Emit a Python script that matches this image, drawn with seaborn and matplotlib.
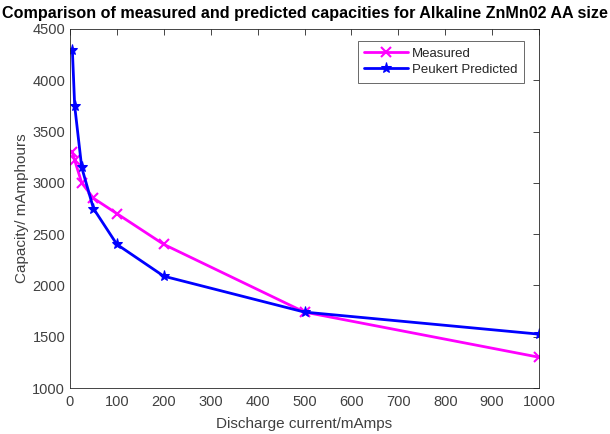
import matplotlib
matplotlib.use("Agg")
import matplotlib.pyplot as plt
import seaborn as sns
import pandas as pd

current = [5, 10, 25, 50, 100, 200, 500, 1000]
measured = [3300, 3220, 3000, 2850, 2700, 2400, 1740, 1300]
predicted = [4300, 3750, 3150, 2750, 2400, 2090, 1740, 1525]
xticks = list(range(0, 1001, 100))
yticks = list(range(1000, 4501, 500))

sns.set_style("white")
plt.rcParams['font.family'] = ['Liberation Sans', 'DejaVu Sans']

df_m = pd.DataFrame({"I": current, "C": measured})
df_p = pd.DataFrame({"I": current, "C": predicted})

fig = plt.figure(figsize=(6.1, 4.34), dpi=100)
ax = fig.add_axes([70/610, 1-388/434, 469/610, 359/434])

sns.lineplot(data=df_m, x="I", y="C", ax=ax, color="#FF00FF", linewidth=2,
             marker="x", markersize=7, markeredgewidth=1.5, markeredgecolor="#FF00FF",
             label="Measured", sort=False)
sns.lineplot(data=df_p, x="I", y="C", ax=ax, color="#0000FF", linewidth=2,
             marker="*", markersize=8, markeredgecolor="#0000FF",
             label="Peukert Predicted", sort=False)

ax.set_xlim(0, 1000)
ax.set_ylim(1000, 4500)
ax.set_xticks(xticks)
ax.set_yticks(yticks)
gray = "#262626"
ax.tick_params(direction="in", length=4, width=0.6, top=True, right=True,
               labelsize=10.5, colors=gray, labelcolor="#404040")
ax.tick_params(axis="x", pad=5)
for s in ax.spines.values():
    s.set_linewidth(0.6)
    s.set_color(gray)

ax.set_xlabel("Discharge current/mAmps", fontsize=11, color="#404040", labelpad=6)
ax.set_ylabel("Capacity/ mAmphours", fontsize=11, color="#404040", labelpad=2)
ax.set_title("Comparison of measured and predicted capacities for Alkaline ZnMn02 AA size",
             fontsize=11.6, fontweight="bold", color="black", pad=8)

leg = ax.legend(loc="upper right", bbox_to_anchor=(524/610, 1-41/434),
                bbox_transform=fig.transFigure, frameon=True, fancybox=False,
                fontsize=9.5, borderpad=0.5, handlelength=3.3, labelspacing=0.3,
                handletextpad=0.3, borderaxespad=0)
leg.get_frame().set_edgecolor(gray)
leg.get_frame().set_linewidth(0.6)
for t in leg.get_texts():
    t.set_color("#262626")

fig.savefig("out.png", dpi=100, facecolor="white")
